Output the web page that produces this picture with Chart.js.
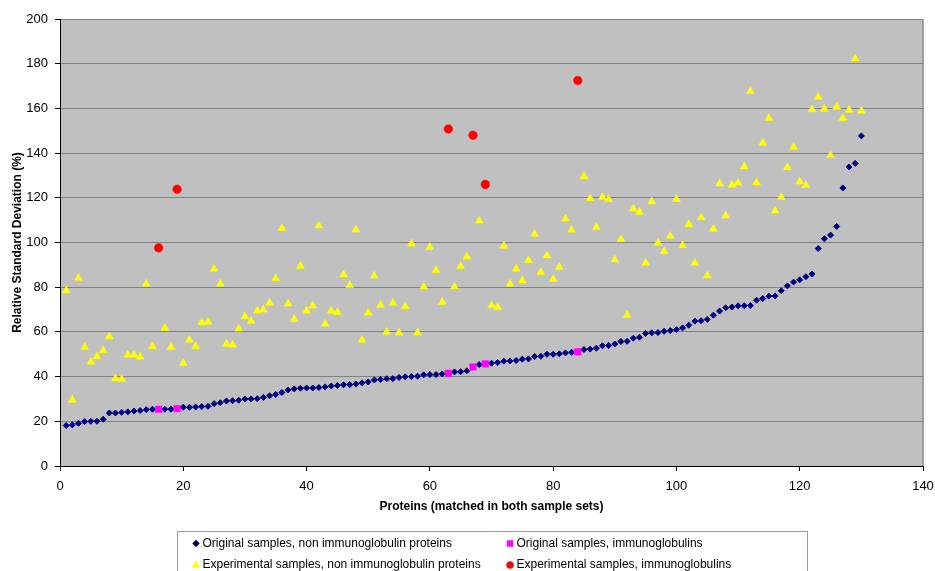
<!DOCTYPE html>
<html>
<head>
<meta charset="utf-8">
<script src="https://cdn.jsdelivr.net/npm/chart.js@4.4.0/dist/chart.umd.min.js"></script>
<style>
  html, body { margin: 0; padding: 0; background: #fff; }
  #rsd { display: block; }
</style>
</head>
<body>
<canvas id="rsd" width="935" height="571"></canvas>
<script>
// Protein numbers that are immunoglobulins (same order in both Ig arrays)
const igProteins = [16, 19, 63, 67, 69, 84];
const origIg = [25.4, 25.7, 41.5, 44.3, 45.7, 51.1];
const expIg = [97.6, 123.8, 150.8, 148.0, 126.0, 172.5];

// RSD per protein 1..130, null where the protein is an immunoglobulin
const origNonIg = [
  18.1, 18.4, 19.1, 19.9, 20.0, 20.0, 20.9, 23.7, 23.7, 24.0,
  24.2, 24.6, 24.8, 25.2, 25.4, null, 25.4, 25.4, null, 26.3,
  26.3, 26.4, 26.6, 26.7, 27.9, 28.3, 29.1, 29.2, 29.4, 30.0,
  30.0, 30.1, 30.7, 31.4, 32.0, 32.9, 34.0, 34.5, 34.8, 34.9,
  34.9, 35.1, 35.4, 35.8, 36.0, 36.3, 36.4, 36.7, 37.2, 37.6,
  38.5, 38.7, 39.0, 39.1, 39.6, 39.9, 40.0, 40.2, 40.8, 40.9,
  40.9, 41.2, null, 42.1, 42.2, 42.6, null, 45.4, null, 46.0,
  46.3, 46.9, 47.0, 47.2, 47.8, 47.9, 49.0, 49.1, 50.0, 50.0,
  50.2, 50.6, 50.9, null, 52.1, 52.3, 52.7, 53.8, 53.9, 54.6,
  55.7, 55.8, 57.2, 57.6, 59.3, 59.6, 59.7, 60.3, 60.6, 61.0,
  61.8, 63.0, 64.8, 65.0, 65.6, 67.5, 69.3, 70.8, 71.1, 71.7,
  71.7, 71.8, 74.2, 74.9, 76.0, 76.1, 78.4, 80.6, 82.3, 83.3,
  84.7, 85.9, 97.3, 101.7, 103.3, 107.2, 124.4, 133.8, 135.4, 147.7
];
const expNonIg = [
  78.5, 29.6, 84.1, 53.2, 46.6, 49.0, 51.7, 57.9, 39.1, 38.8,
  49.7, 49.7, 48.8, 81.5, 53.5, null, 61.7, 53.2, null, 46.0,
  56.4, 53.5, 64.2, 64.5, 88.2, 81.5, 54.6, 54.2, 61.4, 66.9,
  64.8, 69.4, 69.9, 73.0, 83.9, 106.4, 72.6, 65.7, 89.4, 69.4,
  71.7, 107.5, 63.6, 69.4, 68.8, 85.6, 80.9, 105.7, 56.4, 68.5,
  85.1, 72.0, 60.0, 72.9, 59.6, 71.4, 99.4, 59.6, 80.2, 97.9,
  87.5, 73.3, null, 80.2, 89.4, 93.6, null, 109.7, null, 71.8,
  71.0, 98.5, 81.5, 88.2, 82.9, 92.0, 103.8, 86.7, 94.1, 83.6,
  89.0, 110.6, 105.6, null, 129.6, 119.7, 106.8, 120.2, 119.3, 92.3,
  101.4, 67.5, 115.0, 113.6, 90.9, 118.3, 99.7, 96.0, 102.9, 119.4,
  98.7, 108.1, 90.8, 111.2, 85.1, 106.0, 126.3, 112.0, 125.7, 126.6,
  133.9, 167.7, 126.8, 144.5, 155.6, 114.2, 120.3, 133.6, 142.7, 127.2,
  125.6, 159.5, 165.1, 159.8, 139.0, 160.7, 155.6, 159.3, 182.2, 158.9
];

const xTicks = [0, 20, 40, 60, 80, 100, 120, 140];
const yTicks = [0, 20, 40, 60, 80, 100, 120, 140, 160, 180, 200];

const FONT = "'Liberation Sans', Arial, sans-serif";

function byProtein(values) {
  const pts = [];
  values.forEach((v, i) => { if (v !== null) pts.push({ x: i + 1, y: v }); });
  return pts;
}
function paired(xs, ys) {
  return xs.map((x, i) => ({ x: x, y: ys[i] }));
}

// grey plot area with a thin frame on the right
const plotBackground = {
  id: "plotBackground",
  beforeDraw(chart) {
    const { ctx, chartArea: a } = chart;
    ctx.save();
    ctx.fillStyle = "#C0C0C0";
    ctx.fillRect(a.left, a.top, a.right - a.left, a.bottom - a.top);
    ctx.restore();
  },
  beforeDatasetsDraw(chart) {
    const { ctx, chartArea: a } = chart;
    ctx.save();
    ctx.strokeStyle = "#888888";
    ctx.lineWidth = 1.5;
    ctx.beginPath();
    ctx.moveTo(a.right, a.top);
    ctx.lineTo(a.right, a.bottom);
    ctx.stroke();
    ctx.restore();
  }
};

// boxed two-column legend under the axis title
const boxLegend = {
  id: "boxLegend",
  afterDraw(chart) {
    const ctx = chart.ctx;
    ctx.save();
    ctx.fillStyle = "#fff";
    ctx.fillRect(177.5, 531.5, 630, 50);
    ctx.strokeStyle = "#9a9a9a";
    ctx.lineWidth = 1;
    ctx.strokeRect(177.5, 531.5, 630, 50);

    const cols = [196, 510];
    const rows = [543.5, 565];
    const sizes = [3.4, 4.2, 4.4, 3.5];
    chart.data.datasets.forEach((ds, i) => {
      const mx = cols[i % 2];
      const my = rows[Math.floor(i / 2)];
      ctx.fillStyle = ds.backgroundColor;
      ctx.strokeStyle = ds.borderColor;
      ctx.lineWidth = 0.5;
      Chart.helpers.drawPoint(ctx, {
        pointStyle: ds.pointStyle, radius: sizes[i], rotation: 0, borderWidth: 0.5
      }, mx, my);
      ctx.fillStyle = "#000";
      ctx.font = "12px " + FONT;
      ctx.textAlign = "left";
      ctx.textBaseline = "middle";
      ctx.fillText(ds.label, mx + 6.5, my);
    });
    ctx.restore();
  }
};

new Chart(document.getElementById("rsd"), {
  type: "scatter",
  data: {
    datasets: [
      {
        label: "Original samples, non immunoglobulin proteins",
        data: byProtein(origNonIg),
        pointStyle: "rectRot",
        pointRadius: 3,
        pointHoverRadius: 3,
        backgroundColor: "#000080",
        borderColor: "#000080",
        borderWidth: 1,
        order: 3
      },
      {
        label: "Original samples, immunoglobulins",
        data: paired(igProteins, origIg),
        pointStyle: "rect",
        pointRadius: 4.6,
        pointHoverRadius: 4.6,
        backgroundColor: "#FF00FF",
        borderColor: "#FF00FF",
        borderWidth: 0.5,
        order: 0
      },
      {
        label: "Experimental samples, non immunoglobulin proteins",
        data: byProtein(expNonIg),
        pointStyle: "triangle",
        pointRadius: 4.6,
        pointHoverRadius: 4.6,
        backgroundColor: "#FFFF00",
        borderColor: "#FFFF00",
        borderWidth: 0.5,
        order: 2
      },
      {
        label: "Experimental samples, immunoglobulins",
        data: paired(igProteins, expIg),
        pointStyle: "circle",
        pointRadius: 4.3,
        pointHoverRadius: 4.3,
        backgroundColor: "#FF0000",
        borderColor: "#FF0000",
        borderWidth: 0.5,
        order: 1
      }
    ]
  },
  options: {
    responsive: false,
    animation: false,
    events: [],
    layout: { autoPadding: false, padding: { top: 19, right: 12, left: 0, bottom: 0 } },
    plugins: {
      legend: { display: false },
      tooltip: { enabled: false }
    },
    scales: {
      x: {
        type: "linear",
        min: 0,
        max: 140,
        afterFit(scale) {
          scale.height = 105;
          scale.paddingLeft = 0;
          scale.paddingRight = 0;
        },
        afterBuildTicks(scale) { scale.ticks = xTicks.map(v => ({ value: v })); },
        grid: { drawOnChartArea: false, drawTicks: true, tickLength: 5, tickColor: "#000" },
        border: { color: "#000", width: 1 },
        ticks: { color: "#000", font: { family: FONT, size: 13 }, padding: 8, maxRotation: 0 },
        title: {
          display: true,
          text: "Proteins (matched in both sample sets)",
          color: "#000",
          font: { family: FONT, size: 12, weight: "bold" },
          padding: { top: 0, bottom: 57 }
        }
      },
      y: {
        type: "linear",
        min: 0,
        max: 200,
        afterFit(scale) {
          scale.width = 60;
          scale.paddingTop = 0;
          scale.paddingBottom = 0;
        },
        afterBuildTicks(scale) { scale.ticks = yTicks.map(v => ({ value: v })); },
        grid: { color: "#808080", lineWidth: 1, drawTicks: true, tickLength: 5, tickColor: "#000" },
        border: { color: "#000", width: 1 },
        ticks: { color: "#000", font: { family: FONT, size: 13 }, padding: 7 },
        title: {
          display: true,
          text: "Relative Standard Deviation (%)",
          color: "#000",
          font: { family: FONT, size: 12, weight: "bold" },
          padding: { top: 10, bottom: 0 }
        }
      }
    }
  },
  plugins: [plotBackground, boxLegend]
});
</script>
</body>
</html>
